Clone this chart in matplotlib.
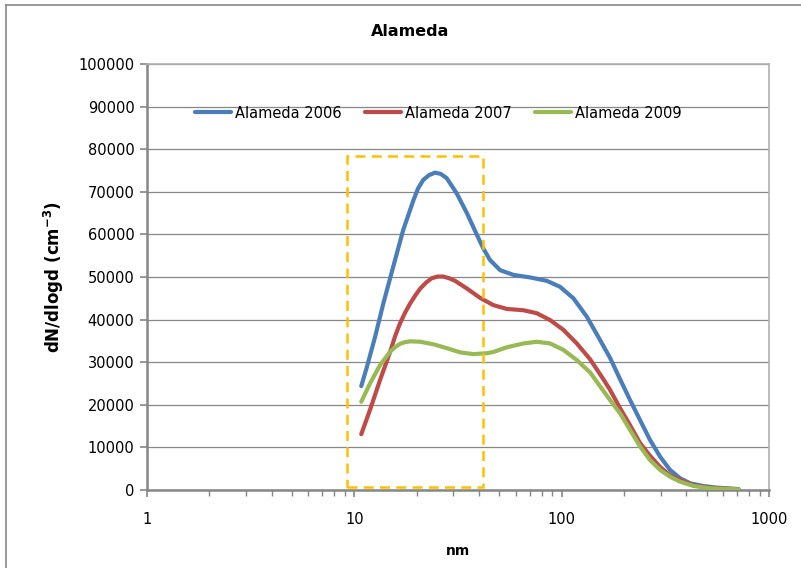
import matplotlib
matplotlib.use("Agg")
import matplotlib.pyplot as plt
from matplotlib.lines import Line2D
from matplotlib.patches import Rectangle
from matplotlib.ticker import NullFormatter

plt.rcParams['font.family'] = ['DejaVu Sans']

# Data (diameter in nm, dN/dlogd)
d2006 = [10.8, 11.5, 12.6, 13.8, 15.4, 17.2, 19.3, 20.3, 21.5, 22.9, 24.5, 26.1, 27.9, 31.2, 34.9,
         39.0, 41.9, 45.1, 50.5, 58.5, 70.4, 84.8, 98.2, 113.9, 132.2, 153.2, 171.2, 191.3, 213.8,
         238.9, 267.1, 298.6, 333.4, 372.7, 416.6, 481.0, 560.0, 711.9]
v2006 = [24400, 28900, 36000, 43800, 52400, 61000, 68100, 70800, 72800, 73900, 74500, 74200, 73200,
         69600, 65000, 59900, 56700, 54000, 51600, 50500, 49900, 49100, 47700, 45000, 40700, 35200,
         31000, 26000, 21100, 16400, 11700, 7800, 4700, 2750, 1570, 940, 550, 230]

d2007 = [10.8, 11.9, 13.3, 14.9, 15.7, 16.6, 17.6, 18.6, 19.7, 20.8, 22.2, 23.6, 25.2, 26.9, 28.7,
         30.6, 34.9, 40.4, 46.8, 54.4, 65.4, 75.8, 87.9, 101.9, 118.3, 137.1, 158.9, 171.2, 191.3,
         213.8, 238.9, 267.1, 298.6, 333.4, 372.7, 433.0, 522.0, 711.9]
v2007 = [13100, 18800, 25800, 32500, 36000, 39100, 41700, 43800, 45700, 47300, 48700, 49700, 50100,
         50100, 49700, 49100, 47300, 45100, 43400, 42500, 42200, 41500, 39900, 37600, 34400, 30700,
         26000, 23500, 19200, 15200, 11000, 8000, 5400, 3400, 2350, 1100, 500, 160]

d2009 = [10.8, 11.9, 13.3, 14.9, 15.7, 16.6, 17.5, 18.6, 20.8, 24.1, 27.9, 32.4, 37.5, 43.5, 46.8,
         54.4, 65.4, 75.8, 87.9, 101.9, 118.3, 137.1, 171.2, 191.3, 213.8, 238.9, 267.1, 298.6,
         333.4, 372.7, 433.0, 522.0, 711.9]
v2009 = [20700, 25000, 29300, 32500, 33500, 34300, 34700, 34900, 34800, 34200, 33300, 32300, 31900,
         32100, 32400, 33500, 34400, 34800, 34400, 32900, 30500, 27600, 21100, 18000, 14100, 10200,
         7000, 4700, 3100, 1950, 940, 400, 160]

labels = ['Alameda 2006', 'Alameda 2007', 'Alameda 2009']
colors = ['#4a7ebb', '#be4b48', '#98b954']

box_x = [9.2, 41.8]
box_y = [800, 78400]

fig = plt.figure(figsize=(8.01, 5.68), dpi=100)
ax = fig.add_axes([147/801, 1-490/568, (769-147)/801, (490-64)/568])

for d, v, lab, c in zip([d2006, d2007, d2009], [v2006, v2007, v2009], labels, colors):
    ax.plot(d, v, color=c, lw=3.0, label=lab, solid_capstyle='round', solid_joinstyle='round', zorder=3)

ax.add_patch(Rectangle((box_x[0], box_y[0]), box_x[1]-box_x[0], box_y[1]-box_y[0],
                       fill=False, edgecolor='#ffc000', lw=1.8, ls=(0, (4, 2.5)), zorder=4))

ax.set_xscale('log')
ax.set_xlim(1, 1000)
ax.set_ylim(0, 100000)
ax.set_yticks(range(0, 100001, 10000))
ax.set_xticks([1, 10, 100, 1000])
ax.set_xticklabels(['1', '10', '100', '1000'])
ax.grid(axis='y', color='#878787', lw=0.9)
ax.set_axisbelow(True)
for s in ['left', 'bottom']:
    ax.spines[s].set_color('#868686')
    ax.spines[s].set_linewidth(1.8)
for s in ['top', 'right']:
    ax.spines[s].set_color('#b0b0b0')
    ax.spines[s].set_linewidth(1.2)
ax.tick_params(axis='y', which='major', length=5, width=1.2, color='#868686', labelsize=10.5, pad=4)
ax.tick_params(axis='x', which='major', length=5, width=1.2, color='#868686', labelsize=10.5, pad=11)
ax.tick_params(axis='x', which='minor', length=4, width=1.0, color='#868686')
ax.xaxis.set_minor_formatter(NullFormatter())

ax.set_ylabel('dN/dlogd (cm$^{\\mathbf{-3}}$)', fontsize=12, fontweight='bold', labelpad=9)
ax.set_xlabel('nm', fontsize=10, fontweight='bold', labelpad=12)
fig.text(410/801, 1-32/568, 'Alameda', ha='center', va='center', fontsize=11.5, fontweight='bold')

ax.legend(loc='center', bbox_to_anchor=((438-147)/622, (490-113)/426), ncol=3, frameon=False,
          fontsize=10.5, handlelength=2.5, handletextpad=0.25, columnspacing=1.6)

fig.add_artist(Line2D([6/801, 6/801], [0, 1-5/568], color='#888888', lw=1.2, transform=fig.transFigure))
fig.add_artist(Line2D([6/801, 1], [1-5/568, 1-5/568], color='#888888', lw=1.2, transform=fig.transFigure))

fig.savefig('out.png', dpi=100)
